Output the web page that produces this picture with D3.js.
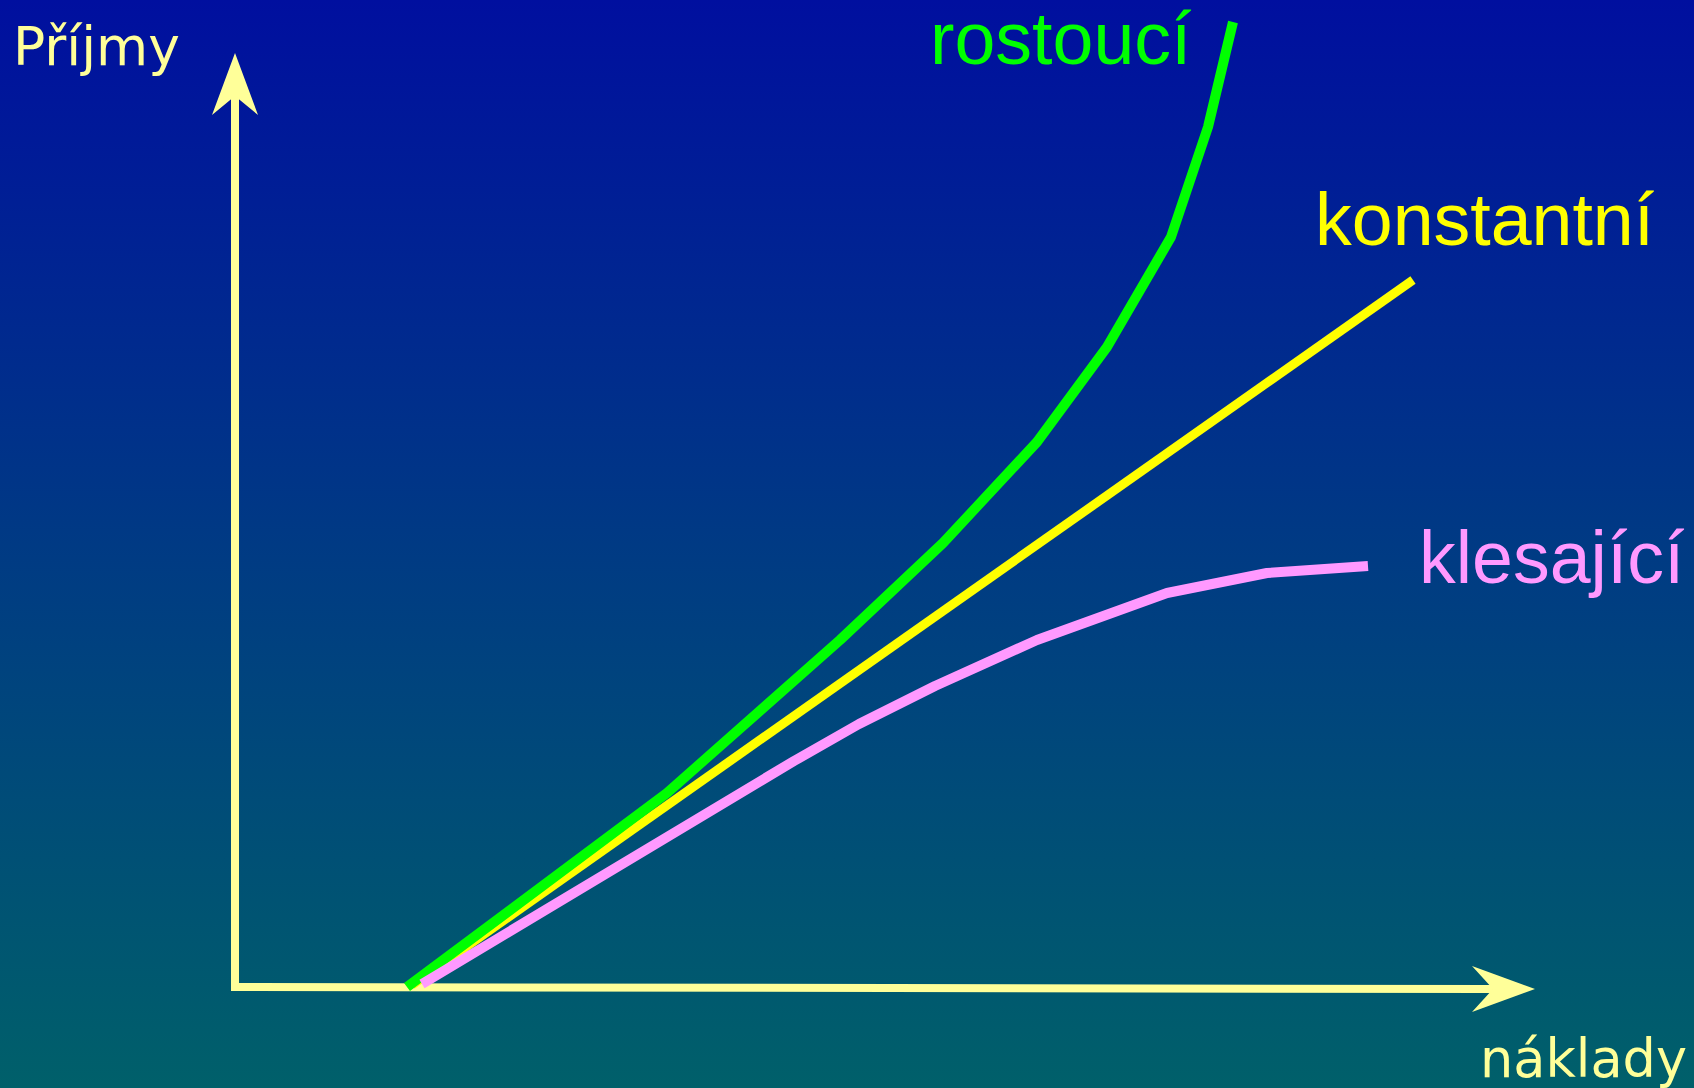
<!DOCTYPE html>
<html>
<head>
<meta charset="utf-8">
<script src="https://cdn.jsdelivr.net/npm/d3@7"></script>
<style>
  html, body { margin: 0; padding: 0; background: #00387f; }
  svg { display: block; }
</style>
</head>
<body>
<svg id="chart" width="1694" height="1088"></svg>
<script>
// Axis extents (in chart units, 1 unit = 10 px)
const axisXEnd = 130;
const axisYEnd = 93.4;

// Axis titles
const yTitle = "Příjmy";
const xTitle = "náklady";

// Series names
const seriesNames = ["konstantní", "rostoucí", "klesající"];

// rostoucí (increasing returns)
const rostouciX = [17.2, 43.2, 60.5, 70.8, 80.2, 87.2, 93.6, 97.3, 99.8];
const rostouciY = [0.0, 19.4, 34.7, 44.4, 54.5, 64.0, 75.0, 86.0, 96.5];

// konstantní (constant returns)
const konstantniX = [17.7, 117.8];
const konstantniY = [0.2, 70.7];

// klesající (decreasing returns)
const klesajiciX = [18.7, 55.9, 62.4, 70.0, 80.2, 93.2, 103.2, 113.3];
const klesajiciY = [0.3, 22.6, 26.3, 30.1, 34.7, 39.4, 41.4, 42.1];

const W = 1694, H = 1088;
const svg = d3.select("#chart");

// Background gradient
const defs = svg.append("defs");
const grad = defs.append("linearGradient")
  .attr("id", "bg").attr("x1", 0).attr("y1", 0).attr("x2", 0).attr("y2", 1);
grad.append("stop").attr("offset", "0%").attr("stop-color", "#000f9f");
grad.append("stop").attr("offset", "50%").attr("stop-color", "#003a84");
grad.append("stop").attr("offset", "100%").attr("stop-color", "#00606a");
svg.append("rect").attr("width", W).attr("height", H).attr("fill", "url(#bg)");

// Scales
const x = d3.scaleLinear().domain([0, axisXEnd]).range([235, 1535]);
const y = d3.scaleLinear().domain([0, axisYEnd]).range([987, 53]);

const axisColor = "#ffff99";

// Axes: vertical and horizontal shafts
const axisPath = d3.path();
axisPath.moveTo(x(0), y(axisYEnd) + 42);
axisPath.lineTo(x(0), y(0));
axisPath.lineTo(x(axisXEnd) - 42, y(0) + 2);
svg.append("path")
  .attr("d", axisPath.toString())
  .attr("fill", "none")
  .attr("stroke", axisColor)
  .attr("stroke-width", 8)
  .attr("stroke-linejoin", "miter");

// Arrowheads (stealth style)
const tipY = [x(0), y(axisYEnd)];
svg.append("path")
  .attr("d", `M${tipY[0]},${tipY[1]} L${tipY[0] + 23},${tipY[1] + 62} L${tipY[0]},${tipY[1] + 43} L${tipY[0] - 23},${tipY[1] + 62} Z`)
  .attr("fill", axisColor);
const tipX = [x(axisXEnd), y(0) + 2];
svg.append("path")
  .attr("d", `M${tipX[0]},${tipX[1]} L${tipX[0] - 63},${tipX[1] - 23} L${tipX[0] - 42},${tipX[1]} L${tipX[0] - 63},${tipX[1] + 23} Z`)
  .attr("fill", axisColor);

// Curves
const line = d3.line().x(d => x(d[0])).y(d => y(d[1]));
const zip = (a, b) => a.map((v, i) => [v, b[i]]);

const series = [
  { pts: zip(konstantniX, konstantniY), color: "#ffff00", width: 9 },
  { pts: zip(rostouciX, rostouciY), color: "#00ff00", width: 10 },
  { pts: zip(klesajiciX, klesajiciY), color: "#ff99ff", width: 10 }
];
svg.selectAll("path.curve")
  .data(series)
  .join("path")
  .attr("class", "curve")
  .attr("d", d => line(d.pts))
  .attr("fill", "none")
  .attr("stroke", d => d.color)
  .attr("stroke-width", d => d.width)
  .attr("stroke-linejoin", "round")
  .attr("stroke-linecap", "butt");

// Axis titles
svg.append("text")
  .attr("x", 13).attr("y", 65)
  .attr("font-family", "DejaVu Sans, Verdana, sans-serif")
  .attr("font-size", 53.5)
  .attr("fill", axisColor)
  .text(yTitle);
svg.append("text")
  .attr("x", 1480).attr("y", 1077)
  .attr("font-family", "DejaVu Sans, Verdana, sans-serif")
  .attr("font-size", 52.5)
  .attr("fill", axisColor)
  .text(xTitle);

// Series labels
const labels = [
  { text: seriesNames[1], x: 930, y: 64, color: "#00ff00" },
  { text: seriesNames[0], x: 1315, y: 245, color: "#ffff00" },
  { text: seriesNames[2], x: 1419, y: 583, color: "#ff99ff" }
];
svg.selectAll("text.lbl")
  .data(labels)
  .join("text")
  .attr("class", "lbl")
  .attr("x", d => d.x).attr("y", d => d.y)
  .attr("font-family", "Liberation Sans, Arial, sans-serif")
  .attr("font-size", 73.5)
  .attr("fill", d => d.color)
  .text(d => d.text);
</script>
</body>
</html>
